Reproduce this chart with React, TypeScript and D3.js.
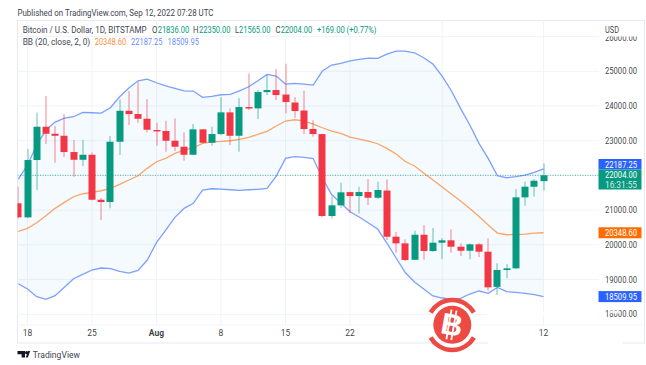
import React from "react";
import * as d3 from "d3";

const W = 646, H = 365;

const dates = d3.timeDay.range(new Date(2022, 6, 17), new Date(2022, 8, 13));

// O H L C, one row per day (Jul 17 .. Sep 12 2022)
const opens = [21197,20793,22444,23403,23201,23143,22674,22452,22596,21300,21234,22971,23863,23768,23633,23310,23280,22999,22827,22596,23328,22942,23192,23817,23143,23970,23932,24400,24460,24330,24100,23870,23340,23192,20831,21139,21520,21407,21522,21358,21565,20235,20044,19570,20292,19823,20062,20131,19947,19831,20016,19803,18790,19276,19324,21369,21675,21836];
const highs = [21675,22760,23806,24287,23423,23768,23020,23020,22665,21349,23135,24192,24431,24699,24200,23518,23575,23644,23241,23480,23336,23403,24258,23932,24229,24940,24460,24900,25064,25217,24258,24439,23587,23200,21387,21790,21530,21675,21896,21819,21888,20370,20160,20407,20572,20485,20197,20448,20044,20044,20050,20188,19468,19448,21608,21819,21896,22350];
const lows = [20753,20770,21580,22904,22366,22530,21963,22271,21283,20716,21052,22588,23452,23518,23241,22855,22683,22703,22423,22590,22924,22855,23160,22876,22683,23884,23624,24316,24172,23788,23662,23192,23115,20793,20764,21070,20917,20908,21148,21320,20140,19774,19535,19560,19572,19800,19592,19774,19679,19584,19650,18679,18556,19036,19300,21127,21387,21565];
const closes = [20793,22444,23403,23201,23143,22674,22452,22596,21300,21234,22971,23863,23768,23633,23316,23280,22999,22827,22596,23328,22942,23192,23817,23143,23970,23932,24402,24460,24316,24114,23855,23336,23192,20831,21139,21513,21407,21522,21358,21580,20235,20044,19564,20292,19823,20062,20131,19947,19831,20016,19803,18777,19276,19324,21369,21675,21847,22004];

const bbUpper = [21896,22300,22876,23308,23538,23653,23691,23817,23806,23797,23950,24267,24517,24727,24776,24670,24583,24508,24439,24431,24249,24278,24324,24336,24439,24555,24727,24912,24863,24632,24652,24632,24604,25007,25180,25228,25303,25344,25381,25372,25496,25583,25583,25534,25390,25208,24863,24439,23932,23452,22924,22492,21990,21934,21963,22012,22089,22187];
const bbBasis = [20390,20476,20638,20839,21052,21225,21387,21473,21513,21559,21628,21744,21868,21991,22204,22395,22492,22636,22732,22798,22924,22971,22982,22999,23040,23097,23184,23270,23423,23567,23604,23575,23480,23374,23279,23212,23106,23048,22991,22913,22780,22616,22400,22271,22069,21868,21666,21464,21263,21047,20816,20572,20341,20292,20298,20312,20341,20349];
const bbLower = [18881,18728,18507,18432,18535,18777,19025,19152,19276,19333,19313,19238,19189,19267,19564,20062,20428,20793,21052,21197,21580,21617,21608,21588,21571,21588,21600,21628,21983,22492,22544,22521,22487,21925,21450,21205,20955,20802,20629,20456,20053,19621,19204,18930,18728,18527,18469,18440,18460,18584,18671,18604,18772,18651,18633,18604,18564,18510];

const priceTicks = [26000,25000,24000,23000,22000,21000,20000,19000,18000];
const timeGrid = [new Date(2022,6,18),new Date(2022,6,25),new Date(2022,7,1),new Date(2022,7,8),new Date(2022,7,15),new Date(2022,7,22),new Date(2022,8,1),new Date(2022,8,12)];
const timeLabels: [Date, string, boolean][] = [
  [new Date(2022,6,18),"18",false],
  [new Date(2022,6,25),"25",false],
  [new Date(2022,7,1),"Aug",true],
  [new Date(2022,7,8),"8",false],
  [new Date(2022,7,15),"15",false],
  [new Date(2022,7,22),"22",false],
  [new Date(2022,8,12),"12",false],
];

const UP = "#089981", DOWN = "#f23645", BLUE = "#2962ff", ORANGE = "#ff6d00";
const FONT = "Roboto, 'Open Sans', sans-serif";
const TXT = "#131722", GREY = "#434651";

const PL = 17.5, PR = 599, PT = 20.5, PB = 325, FR = 644.5, FB = 343;

const x = d3.scaleTime().domain([new Date(2022,6,18), new Date(2022,8,12)]).range([27.5, 543.5]);
const y = d3.scaleLinear().domain([18000, 25000]).range([314.3, 71.3]);

function T(p: {x:number; y:number; w:number; fill:string; op?:number; size?:number; weight?:number; children:string}) {
  return <text x={p.x} y={p.y} textLength={p.w} lengthAdjust="spacingAndGlyphs" fontSize={p.size ?? 8.5}
    fill={p.fill} fillOpacity={p.op ?? 1} fontWeight={p.weight ?? 400}>{p.children}</text>;
}

export default function App() {
  const line = d3.line<number>().x((_, i) => x(dates[i])).y(d => y(d));
  const area = d3.area<number>().x((_, i) => x(dates[i])).y0((_, i) => y(bbLower[i])).y1(d => y(d));
  const days = dates.map((_, i) => i);
  return (
    <svg width={W} height={H} style={{position:"absolute",left:0,top:0,background:"#fff"}} fontFamily={FONT}>
      <defs>
        <clipPath id="plot"><rect x={PL} y={PT} width={PR-PL} height={PB-PT}/></clipPath>
      </defs>
      <T x={17.5} y={15.5} w={196} fill={GREY}>Published on TradingView.com, Sep 12, 2022 07:28 UTC</T>
      <rect x={PL} y={PT} width={FR-PL} height={FB-PT} fill="none" stroke="#e6e9f2" strokeWidth={1}/>
      <line x1={PL} x2={FR} y1={PB} y2={PB} stroke="#f3f4f8"/>
      <g stroke="#f0f3fa" strokeWidth={1}>
        {priceTicks.map(p => <line key={p} x1={PL} x2={PR} y1={y(p)} y2={y(p)}/>)}
        {timeGrid.map(t => <line key={+t} x1={x(t)} x2={x(t)} y1={PT} y2={PB}/>)}
      </g>
      <g clipPath="url(#plot)">
        <path d={area(bbUpper) ?? ""} fill="#2196f3" fillOpacity={0.05}/>
        <line x1={PL} x2={PR} y1={y(22004)} y2={y(22004)} stroke={UP} strokeDasharray="1 1.5" strokeOpacity={0.7}/>
        <path d={line(bbBasis) ?? ""} fill="none" stroke={ORANGE} strokeOpacity={0.6} strokeWidth={1.3}/>
        <path d={line(bbUpper) ?? ""} fill="none" stroke={BLUE} strokeOpacity={0.6} strokeWidth={1.3}/>
        <path d={line(bbLower) ?? ""} fill="none" stroke={BLUE} strokeOpacity={0.6} strokeWidth={1.3}/>
        {days.map(i => {
          const up = closes[i] >= opens[i];
          const c = up ? UP : DOWN;
          const cx = Math.round(x(dates[i]));
          const t = y(Math.max(opens[i], closes[i]));
          const b = y(Math.min(opens[i], closes[i]));
          return (
            <g key={i}>
              <line x1={cx} x2={cx} y1={y(highs[i])} y2={y(lows[i])} stroke={c} strokeOpacity={0.6}/>
              <rect x={cx-3.5} y={t} width={7} height={Math.max(b-t,1.5)} fill={c}/>
            </g>
          );
        })}
      </g>
      <T x={22.7} y={33} w={124} fill={GREY}>Bitcoin / U.S. Dollar, 1D, BITSTAMP</T>
      <T x={152} y={33} w={5.5} fill={GREY}>O</T><T x={157.7} y={33} w={31.5} fill={UP}>21836.00</T>
      <T x={193} y={33} w={5.5} fill={GREY}>H</T><T x={199} y={33} w={31.5} fill={UP}>22350.00</T>
      <T x={235} y={33} w={4} fill={GREY}>L</T><T x={239} y={33} w={31.5} fill={UP}>21565.00</T>
      <T x={275.5} y={33} w={5} fill={GREY}>C</T><T x={280.7} y={33} w={31.5} fill={UP}>22004.00</T>
      <T x={317} y={33} w={59.5} fill={UP}>+169.00 (+0.77%)</T>
      <T x={22.7} y={44.5} w={67.5} fill={GREY}>BB (20, close, 2, 0)</T>
      <T x={94.7} y={44.5} w={31.5} fill={ORANGE} op={0.8}>20348.60</T>
      <T x={131} y={44.5} w={31.5} fill={BLUE} op={0.75}>22187.25</T>
      <T x={167.5} y={44.5} w={31.5} fill={BLUE} op={0.75}>18509.95</T>

      {priceTicks.map(p => <T key={p} x={605} y={(p === 26000 ? y(p)+1 : y(p))+3} w={32} fill={TXT} op={0.85}>{p.toFixed(2)}</T>)}
      <rect x={602} y={22} width={40} height={14.5} fill="#fff"/>
      <T x={605} y={32.5} w={14} fill={TXT} op={0.85}>USD</T>
      <g fontSize={8.5} fill={TXT} fillOpacity={0.85} textAnchor="middle">
        {timeLabels.map(t => <text key={t[1]} x={x(t[0])} y={336} fontWeight={t[2] ? 700 : 400}>{t[1]}</text>)}
      </g>

      {/* last-value badges: the 22187.25 one is pushed above the current price tag */}
      <rect x={598.5} y={159} width={43} height={10.5} fill={BLUE}/>
      <T x={605} y={167.5} w={32} fill="#fff">22187.25</T>
      <rect x={598.5} y={169.5} width={43} height={20} fill={UP}/>
      <T x={605} y={178} w={32} fill="#fff">22004.00</T>
      <T x={605} y={188} w={32} fill="#fff" op={0.85}>16:31:55</T>
      <rect x={598.5} y={y(20348.6)-5.5} width={43} height={11} fill={ORANGE}/>
      <T x={605} y={y(20348.6)+3} w={32} fill="#fff">20348.60</T>
      <rect x={598.5} y={y(18509.95)-5.5} width={43} height={11} fill={BLUE}/>
      <T x={605} y={y(18509.95)+3} w={32} fill="#fff">18509.95</T>

      {/* TradingView mark */}
      <g fill="#131722">
        <path d="M17.5 351h7.5v6.5h-3.4v-3.2h-4.1z"/>
        <circle cx={26.6} cy={352.7} r={1.6}/>
        <path d="M30.2 351h-2.1l-2.3 6.5h2z"/>
      </g>
      <T x={32.7} y={358} w={47.3} size={9} fill={GREY}>TradingView</T>

      {/* watermark */}
      <g>
        <rect x={487} y={312.5} width={116} height={2.5} fill="#fff"/>
        <rect x={609.5} y={310.5} width={10} height={3} fill="#fff" fillOpacity={0.8}/>
        <rect x={488} y={341} width={135} height={4} fill="#fff"/>
        <path d="M430.6 312.5 A25 25 0 0 1 473.9 312.5" fill="none" stroke="#ec4a43" strokeWidth={4.5}/>
        <path d="M430.6 337.5 A25 25 0 0 0 473.9 337.5" fill="none" stroke="#ec4a43" strokeWidth={4.5}/>
        <circle cx={452.3} cy={324.7} r={19} fill="#ec4a43"/>
        <g transform="rotate(10 452 325)" fill="#fff">
          <rect x={448} y={310} width={1.8} height={30}/>
          <rect x={453} y={310} width={1.8} height={30}/>
          <text x={452} y={335} textAnchor="middle" fontSize={30} fontWeight={700} fontFamily="'Liberation Sans', sans-serif">B</text>
        </g>
      </g>
    </svg>
  );
}
